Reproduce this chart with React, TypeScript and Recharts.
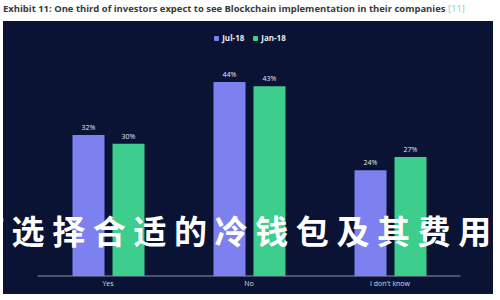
import React from "react";
import { BarChart, Bar, XAxis, YAxis, LabelList } from "recharts";

// Survey answers and the share of respondents per wave
const categories = ["Yes", "No", "I don't know"];
const jul18 = [32, 44, 24];
const jan18 = [30, 43, 27];
const seriesNames = ["Jul-18", "Jan-18"];

const data = categories.map((name, i) => ({ name, jul: jul18[i], jan: jan18[i] }));

const PURPLE = "#7d80ef";
const GREEN = "#3dcd8d";
const PANEL = "#0a1334";

const pct = (v: any) => `${v}%`;

export default function App() {
  return (
    <div
      style={{
        position: "fixed",
        left: 0,
        top: 0,
        width: 500,
        height: 300,
        background: "#ffffff",
        overflow: "hidden",
        fontFamily: "'Open Sans', sans-serif",
      }}
    >
      <div
        style={{
          position: "absolute",
          left: 3,
          top: 1,
          fontSize: 9.45,
          fontWeight: 700,
          color: "#3a3a3a",
          whiteSpace: "nowrap",
          lineHeight: "15px",
        }}
      >
        Exhibit 11: One third of investors expect to see Blockchain implementation in their companies{" "}
        <span style={{ color: "#7fd3b8", fontWeight: 400 }}>[11]</span>
      </div>
      <div
        style={{
          position: "absolute",
          left: 3,
          top: 21,
          width: 490,
          height: 273,
          background: PANEL,
        }}
      />
      <div
        style={{
          position: "absolute",
          left: 0,
          top: 32,
          width: 500,
          display: "flex",
          justifyContent: "center",
          gap: 9,
          fontSize: 8,
          fontWeight: 700,
          color: "#e8eaf4",
          lineHeight: "12px",
        }}
      >
        {seriesNames.map((n, i) => (
          <div key={n} style={{ display: "flex", alignItems: "center", gap: 3 }}>
            <span
              style={{
                width: 5,
                height: 5,
                borderRadius: 1,
                background: i === 0 ? PURPLE : GREEN,
                display: "inline-block",
              }}
            />
            {n}
          </div>
        ))}
      </div>
      <div style={{ position: "absolute", left: 0, top: 0 }}>
        <BarChart
          width={500}
          height={300}
          data={data}
          margin={{ top: 55.5, right: 39.5, bottom: 0, left: 37.5 }}
          barSize={32}
          barGap={8}
        >
          <XAxis
            dataKey="name"
            height={24}
            tickLine={false}
            tickSize={3}
            tickMargin={2}
            axisLine={{ stroke: "#8c93ad", strokeWidth: 1 }}
            tick={{ fill: "#d5d9e6", fontSize: 7 }}
          />
          <YAxis hide domain={[0, 50]} />
          <Bar dataKey="jul" name={seriesNames[0]} fill={PURPLE} isAnimationActive={false}>
            <LabelList dataKey="jul" position="top" offset={5} formatter={pct} fill="#e3e6f2" fontSize={7} />
          </Bar>
          <Bar dataKey="jan" name={seriesNames[1]} fill={GREEN} isAnimationActive={false}>
            <LabelList dataKey="jan" position="top" offset={5} formatter={pct} fill="#e3e6f2" fontSize={7} />
          </Bar>
        </BarChart>
      </div>
      <div
        style={{
          position: "absolute",
          left: -29,
          top: 208,
          fontFamily: "'Noto Sans CJK SC', sans-serif",
          fontWeight: 700,
          fontSize: 33,
          letterSpacing: 7.6,
          lineHeight: "44px",
          color: "#ffffff",
          whiteSpace: "nowrap",
        }}
      >
        何选择合适的冷钱包及其费用
      </div>
    </div>
  );
}
